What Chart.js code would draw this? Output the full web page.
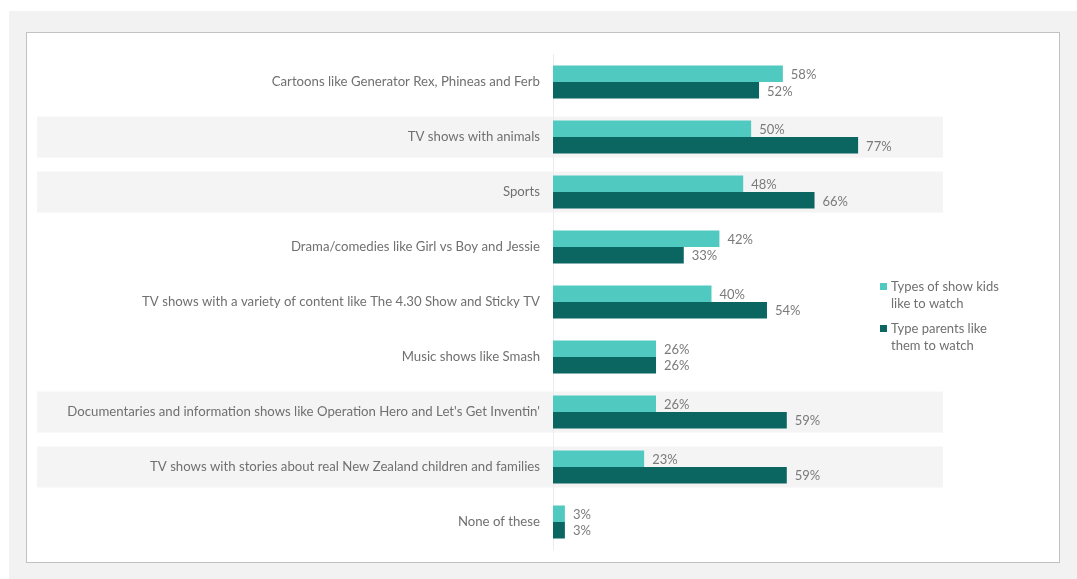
<!DOCTYPE html>
<html>
<head>
<meta charset="utf-8">
<script src="https://cdn.jsdelivr.net/npm/chart.js@4"></script>
<style>
  body { margin: 0; background: #fff; font-family: Lato, sans-serif; }
  .page { position: absolute; left: 9px; top: 11px; width: 1068px; height: 568px; background: #f2f2f2; }
  .box { position: absolute; left: 26px; top: 32px; width: 1032px; height: 529px; background: #fff; border: 1px solid #c2c2c2; }
  .wrap { position: absolute; left: 0; top: 0; width: 1032px; height: 529px; }
</style>
</head>
<body>
<div class="page"></div>
<div class="box">
  <div class="wrap"><canvas id="chart"></canvas></div>
</div>
<script>
// Chart data
const categories = [
    'Cartoons like Generator Rex, Phineas and Ferb',
    'TV shows with animals',
    'Sports',
    'Drama/comedies like Girl vs Boy and Jessie',
    'TV shows with a variety of content like The 4.30 Show and Sticky TV',
    'Music shows like Smash',
    "Documentaries and information shows like Operation Hero and Let's Get Inventin'",
    'TV shows with stories about real New Zealand children and families',
    'None of these'
];
const kidsValues = [58, 50, 48, 42, 40, 26, 26, 23, 3];
const parentsValues = [52, 77, 66, 33, 54, 26, 59, 59, 3];
const seriesNames = [['Types of show kids', 'like to watch'], ['Type parents like', 'them to watch']];
const bandedRows = [1, 2, 6, 7];

const lightTeal = '#50c9c0';
const darkTeal = '#0b6561';

// Gray bands behind some rows (drawn before the axis labels)
const bandPlugin = {
    id: 'bands',
    beforeDraw(chart) {
        const ctx = chart.ctx;
        const y = chart.scales.y;
        ctx.save();
        ctx.fillStyle = '#f4f4f4';
        bandedRows.forEach(i => {
            const cy = y.getPixelForValue(i);
            ctx.fillRect(10, cy - 20.5, 906, 41);
        });
        ctx.restore();
    }
};

// Value labels at the end of each bar
const valueLabels = {
    id: 'valueLabels',
    afterDatasetsDraw(chart) {
        const ctx = chart.ctx;
        ctx.save();
        ctx.font = '13px Lato';
        ctx.fillStyle = '#7a7a7a';
        ctx.textBaseline = 'middle';
        chart.data.datasets.forEach((ds, di) => {
            chart.getDatasetMeta(di).data.forEach((bar, i) => {
                ctx.fillText(ds.data[i] + '%', bar.x + 8, bar.y + 1);
            });
        });
        ctx.restore();
    }
};

// Legend with wrapped text on the right
const sideLegend = {
    id: 'sideLegend',
    afterDraw(chart) {
        const ctx = chart.ctx;
        const colors = [lightTeal, darkTeal];
        ctx.save();
        ctx.font = '13px Lato';
        ctx.textBaseline = 'middle';
        seriesNames.forEach((lines, k) => {
            const top = 250 + k * 42;
            ctx.fillStyle = colors[k];
            ctx.fillRect(853, top, 7, 7);
            ctx.fillStyle = '#707070';
            lines.forEach((t, j) => ctx.fillText(t, 864, top + 4 + j * 17));
        });
        ctx.restore();
    }
};

new Chart(document.getElementById('chart'), {
    type: 'bar',
    data: {
        labels: categories,
        datasets: [
            { label: seriesNames[0].join(' '), data: kidsValues, backgroundColor: lightTeal },
            { label: seriesNames[1].join(' '), data: parentsValues, backgroundColor: darkTeal }
        ]
    },
    options: {
        indexAxis: 'y',
        responsive: true,
        maintainAspectRatio: false,
        animation: false,
        datasets: { bar: { barPercentage: 1, categoryPercentage: 0.6 } },
        layout: { padding: { top: 21.6, bottom: 12.5, right: 189, left: 0 } },
        plugins: {
            legend: { display: false },
            tooltip: { enabled: false }
        },
        scales: {
            x: { display: false, min: 0, max: 80 },
            y: {
                grid: { display: false, drawTicks: false },
                border: { display: true, color: '#ececec', width: 1 },
                ticks: { color: '#707070', font: { family: 'Lato', size: 13.2 }, padding: 13, autoSkip: false },
                afterFit(scale) {
                    scale.width = 526;
                    scale.paddingTop = 0;
                    scale.paddingBottom = 0;
                }
            }
        }
    },
    plugins: [bandPlugin, valueLabels, sideLegend]
});
</script>
</body>
</html>
